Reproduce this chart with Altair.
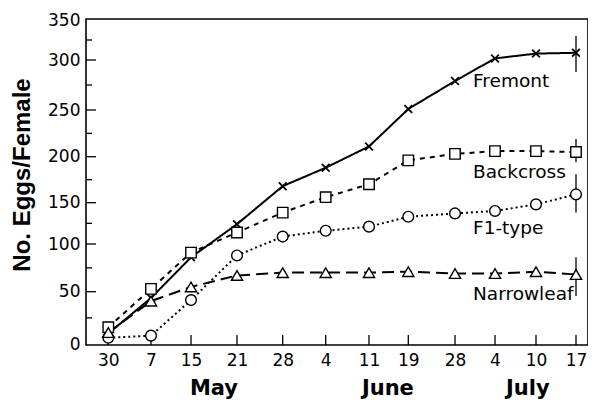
import altair as alt
import pandas as pd

# ---- data ----
dates = ["30", "7", "15", "21", "28", "4", "11", "19", "28", "4", "10", "17"]
months = ["May", "June", "July"]
month_pos = [2.5, 6.48, 9.8]

fremont = [10, 44, 86, 124, 168, 188, 211, 251, 279, 302, 308, 309]
backcross = [16, 53, 91, 114, 138, 156, 170, 196, 203, 206, 206, 205]
f1type = [6, 8, 42, 88, 109, 116, 121, 133, 137, 140, 148, 159]
narrowleaf = [11, 41, 55, 67, 70, 70, 70, 71, 69, 69, 71, 68]

series_names = ["Fremont", "Backcross", "F1-type", "Narrowleaf"]
series_vals = [fremont, backcross, f1type, narrowleaf]
# error bars on the final sampling date
err_low = [288, 194, 138, 46]
err_high = [330, 219, 181, 86]

label_y = [279, 183, 119, 48]
label_x = 8.45

FONT = "DejaVu Sans"
TFONT = "Liberation Sans"
W, H = 502, 326

# the drawn figure's axes are slightly uneven; follow its tick positions
x_dom = [-0.5] + list(range(12)) + [11.28]
x_rng = [0, 22.3, 65, 105, 151, 196.7, 239.7, 283, 322.3, 369, 409, 450, 490, 502]
y_dom = [-1, 0, 50, 100, 150, 200, 250, 300, 350, 351.25]
y_rng = [326, 325, 272.7, 225, 183.7, 137.7, 91, 41, 1, 0]

xscale = alt.Scale(domain=x_dom, range=x_rng, nice=False, zero=False)
yscale = alt.Scale(domain=y_dom, range=y_rng, nice=False, zero=False)

label_expr = "[" + ",".join("'%s'" % d for d in dates) + "][datum.value]"

x_axis = alt.Axis(values=list(range(len(dates))), labelExpr=label_expr, tickSize=0,
                  domain=False, grid=False, title=None, labelFont=FONT,
                  labelFontSize=17, labelColor="black", labelPadding=7)
y_axis = alt.Axis(values=list(range(0, 351, 50)), tickSize=0, domain=False, grid=False,
                  title=None, labelFont=FONT, labelFontSize=17, labelColor="black",
                  labelPadding=6)


def X(field):
    return alt.X(field, scale=xscale, title=None)


def Y(field):
    return alt.Y(field, scale=yscale, title=None)


rows = []
for name, vals in zip(series_names, series_vals):
    for i, v in enumerate(vals):
        rows.append({"series": name, "idx": i, "v": v})
df = pd.DataFrame(rows)

styles = {
    "Fremont": dict(dash=[1, 0], shape="M-1,-1L1,1M1,-1L-1,1", size=60, fill=False),
    "Backcross": dict(dash=[5, 5], shape="square", size=110, fill=True),
    "F1-type": dict(dash=[2, 3], shape="circle", size=115, fill=True),
    "Narrowleaf": dict(dash=[12, 6], shape="triangle-up", size=125, fill=True),
}

layers = []

# axes carrier (invisible)
base = alt.Chart(df).mark_point(opacity=0).encode(
    x=alt.X("idx:Q", scale=xscale, axis=x_axis, title=None),
    y=alt.Y("v:Q", scale=yscale, axis=y_axis, title=None),
)
layers.append(base)

# inward ticks on y axis
ymaj = pd.DataFrame({"v": list(range(50, 350, 50))})
ymin = pd.DataFrame({"v": list(range(25, 350, 50))})
layers.append(alt.Chart(ymaj).mark_rule(color="black", strokeWidth=1.3).encode(
    y=Y("v:Q"), x=alt.value(0), x2=alt.value(10)))
layers.append(alt.Chart(ymin).mark_rule(color="black", strokeWidth=1.3).encode(
    y=Y("v:Q"), x=alt.value(0), x2=alt.value(6)))

# inward ticks on x axis
xt = pd.DataFrame({"idx": list(range(len(dates)))})
layers.append(alt.Chart(xt).mark_rule(color="black", strokeWidth=1.3).encode(
    x=X("idx:Q"), y=alt.value(H), y2=alt.value(H - 10)))

# error bars
eb = pd.DataFrame({"idx": [len(dates) - 1] * 4, "lo": err_low, "hi": err_high})
layers.append(alt.Chart(eb).mark_rule(color="black", strokeWidth=1.3).encode(
    x=X("idx:Q"), y=Y("lo:Q"), y2="hi:Q"))

for name in series_names:
    st = styles[name]
    sd = df[df.series == name]
    layers.append(alt.Chart(sd).mark_line(color="black", strokeWidth=2,
                                          strokeDash=st["dash"]).encode(
        x=X("idx:Q"), y=Y("v:Q")))
for name in series_names:
    st = styles[name]
    sd = df[df.series == name]
    if st["fill"]:
        mk = alt.Chart(sd).mark_point(shape=st["shape"], size=st["size"], filled=True,
                                      fill="white", stroke="black", strokeWidth=1.4,
                                      opacity=1)
    else:
        mk = alt.Chart(sd).mark_point(shape=st["shape"], size=st["size"], filled=False,
                                      stroke="black", strokeWidth=1.8, opacity=1)
    layers.append(mk.encode(x=X("idx:Q"), y=Y("v:Q")))

# series labels
lab = pd.DataFrame({"name": series_names, "y": label_y, "x": [label_x] * 4})
layers.append(alt.Chart(lab).mark_text(font=FONT, fontSize=18.5, align="left",
                                       baseline="middle", color="black").encode(
    x=X("x:Q"), y=Y("y:Q"), text="name:N"))

# month labels
mdf = pd.DataFrame({"m": months, "x": month_pos})
layers.append(alt.Chart(mdf).mark_text(font=FONT, fontSize=21, fontWeight="bold",
                                       baseline="middle", align="center",
                                       color="black").encode(
    x=X("x:Q"), y=alt.value(370), text="m:N"))

# y title
tdf = pd.DataFrame({"t": ["No. Eggs/Female"]})
layers.append(alt.Chart(tdf).mark_text(font=TFONT, fontSize=24, fontWeight="bold",
                                       angle=270, baseline="middle", align="center",
                                       color="black").encode(
    x=alt.value(-63), y=alt.value(156), text="t:N"))

chart = alt.layer(*layers).properties(
    width=W, height=H,
    padding={"left": 78, "top": 11, "right": 0, "bottom": 55},
    autosize=alt.AutoSizeParams(type="none"),
).configure_view(stroke="black", strokeWidth=1.6)

chart.save("out.html", embed_options={"renderer": "svg", "actions": False})
